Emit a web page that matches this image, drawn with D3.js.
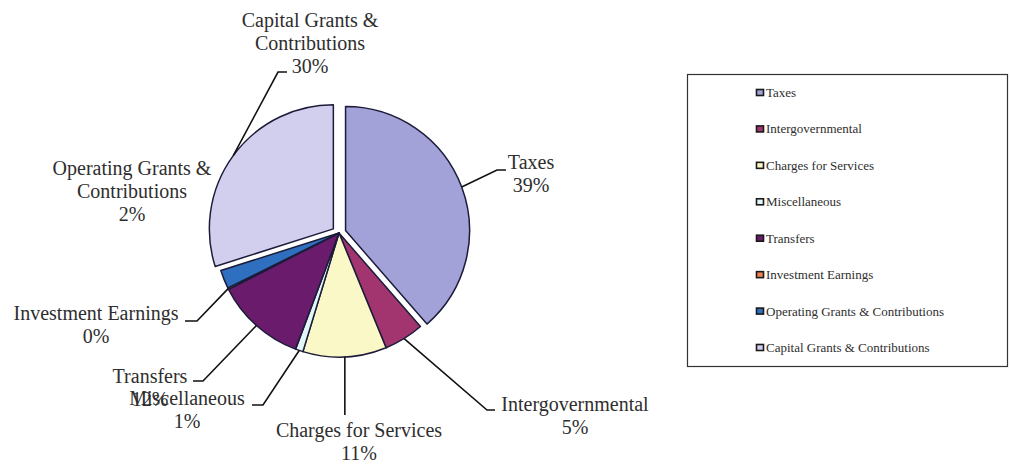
<!DOCTYPE html>
<html>
<head>
<meta charset="utf-8">
<script src="https://cdn.jsdelivr.net/npm/d3@7"></script>
<style>
  body { margin: 0; background: #fff; }
  text { font-family: "Liberation Serif", "Times New Roman", serif; fill: #2e2e2e; }
</style>
</head>
<body>
<script>
// revenue sources, percent of total
var categories = ["Taxes", "Intergovernmental", "Charges for Services", "Miscellaneous",
                  "Transfers", "Investment Earnings", "Operating Grants & Contributions",
                  "Capital Grants & Contributions"];
var shares = [38.6, 5.2, 10.9, 1.0, 11.8, 0.2, 2.4, 29.9];
var labelLines = [["Taxes"], ["Intergovernmental"], ["Charges for Services"], ["Miscellaneous"],
                  ["Transfers"], ["Investment Earnings"], ["Operating Grants &", "Contributions"],
                  ["Capital Grants &", "Contributions"]];

var colors = ["#a2a2d8", "#a2346f", "#fbf8c8", "#e2f6f8", "#6a1b6c", "#f08050", "#2f6fc0", "#d2cfee"];
var exploded = [true, false, false, false, false, false, false, true];

// label placement: text centre x, first baseline y, leader elbow + end (null = no leader)
var layout = [
  {x: 531, y: 169, leader: [[497, 170], [506, 170]]},
  {x: 575, y: 411, leader: [[487, 410], [495, 410]]},
  {x: 359, y: 437, leader: "down"},
  {x: 187, y: 405, leader: [[263, 405], [252, 405]]},
  {x: 150, y: 383, leader: [[203, 381], [193, 381]]},
  {x: 96,  y: 320, leader: [[197, 321], [185, 321]]},
  {x: 132, y: 175, leader: null},
  {x: 310, y: 27,  leader: [[278, 72], [287, 72]]}
];

var width = 1010, height = 464,
    cx = 339, cy = 233, radius = 124, explode = 7, lineH = 23;

var svg = d3.select("body").append("svg")
    .attr("width", width)
    .attr("height", height);

var pie = d3.pie().sort(null).value(function(d) { return d; });
var arcs = pie(shares);

var arc = d3.arc().innerRadius(0).outerRadius(radius);
var rim = d3.arc().innerRadius(radius).outerRadius(radius);

function offset(d, i) {
  if (!exploded[i]) return [0, 0];
  var a = (d.startAngle + d.endAngle) / 2;
  return [Math.sin(a) * explode, -Math.cos(a) * explode];
}

var g = svg.append("g").attr("transform", "translate(" + cx + "," + cy + ")");

g.selectAll("path.slice")
  .data(arcs)
  .enter().append("path")
    .attr("class", "slice")
    .attr("transform", function(d, i) { var o = offset(d, i); return "translate(" + o[0] + "," + o[1] + ")"; })
    .attr("d", arc)
    .attr("fill", function(d, i) { return colors[i]; })
    .attr("stroke", "#1c1c3a")
    .attr("stroke-width", 1.5)
    .attr("stroke-linejoin", "round");

// leader lines
arcs.forEach(function(d, i) {
  var l = layout[i];
  if (!l.leader) return;
  var o = offset(d, i);
  var p = rim.centroid(d);
  var start = [cx + p[0] + o[0], cy + p[1] + o[1]];
  var pts = l.leader === "down" ? [start, [start[0], 415]] : [start].concat(l.leader);
  svg.append("path")
    .attr("d", d3.line()(pts))
    .attr("fill", "none")
    .attr("stroke", "#111")
    .attr("stroke-width", 1.6);
});

// labels
arcs.forEach(function(d, i) {
  var l = layout[i];
  var lines = labelLines[i].concat([d3.format(".0f")(shares[i]) + "%"]);
  var t = svg.append("text")
    .attr("text-anchor", "middle")
    .attr("font-size", 20);
  lines.forEach(function(s, k) {
    t.append("tspan").attr("x", l.x).attr("y", l.y + k * lineH).text(s);
  });
});

// legend
var legend = svg.append("g");
legend.append("rect")
  .attr("x", 687.5).attr("y", 74.5)
  .attr("width", 320).attr("height", 292)
  .attr("fill", "#fff")
  .attr("stroke", "#333")
  .attr("stroke-width", 1.2);

var ly = d3.scalePoint().domain(categories).range([93, 348]);

var item = legend.selectAll("g.item")
  .data(categories)
  .enter().append("g")
    .attr("class", "item")
    .attr("transform", function(d) { return "translate(756," + ly(d) + ")"; });

item.append("rect")
  .attr("x", 0.5).attr("y", -3.5)
  .attr("width", 7).attr("height", 6)
  .attr("fill", function(d, i) { return colors[i]; })
  .attr("stroke", "#1a1a1a")
  .attr("stroke-width", 1.6);

item.append("text")
  .attr("x", 10)
  .attr("y", 4)
  .attr("font-size", 13)
  .text(function(d) { return d; });
</script>
</body>
</html>
